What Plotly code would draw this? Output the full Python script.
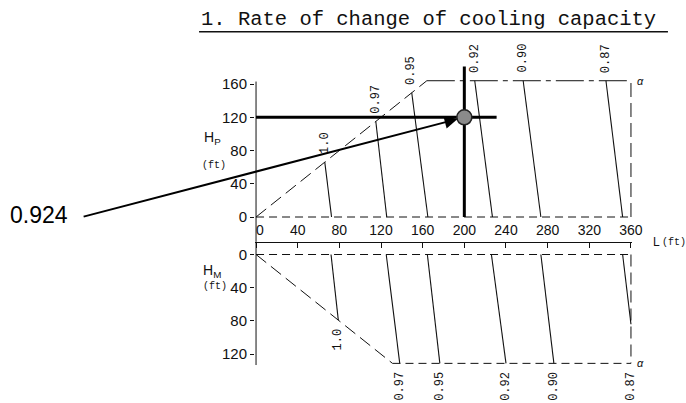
import plotly.graph_objects as go

# ---- data -------------------------------------------------------------
# Capacity correction factors, one line per factor
factors = ["1.0", "0.97", "0.95", "0.92", "0.90", "0.87"]

# Upper chart: outdoor unit above indoor unit (height difference Hp, ft)
upper_top_L = [66, 115, 149.5, 210, 256.5, 336]     # upper end of each line (L, ft)
upper_top_H = [66, 115, 149.5, 164, 164, 164]       # upper end of each line (Hp, ft)
upper_base_L = [72.5, 125.5, 165, 227, 273.5, 352]  # lower end, at Hp = 0

# Lower chart: outdoor unit below indoor unit (height difference HM, ft)
lower_base_L = [72, 125, 164.5, 226, 273.5, 352]    # start of each line, at HM = 0
lower_end_L = [79, 138, 176.5, 240, 286, 360]       # end of each line (L, ft)
lower_end_H = [79, 131, 131, 131, 131, 84]          # end of each line (HM, ft)

L_MAX = 360      # maximum piping length (ft)
HP_MAX = 164     # maximum height difference, outdoor unit above (ft)
HM_MAX = 131     # maximum height difference, outdoor unit below (ft)

x_ticks = [0, 40, 80, 120, 160, 200, 240, 280, 320, 360]
hp_ticks = [0, 40, 80, 120, 160]
hm_ticks = [0, 40, 80, 120]

# Worked example: L = 200 ft, Hp = 120 ft -> factor 0.924
op_L = 200
op_H = 120
op_factor = "0.924"
guide_L_end = 231
guide_H_end = 181

# ---- geometry of the drawing ----------------------------------------
W, H = 686, 403
KX = 375 / 360          # px per ft, horizontal
KY = 0.831              # px per ft, vertical
X0_PX = 256             # column of L = 0
TOP_ZERO_PX = 217       # row of Hp = 0
BOT_ZERO_PX = 254.5     # row of HM = 0
AXIS_PX = 241.5         # row of the L axis
x_lo, x_hi = -1, 361
ML = X0_PX + x_lo * KX
PW = (x_hi - x_lo) * KX
MR = W - ML - PW
MT, MB = 38, 25
PH = H - MT - MB
split = (H - MB - AXIS_PX) / PH
top_range = [-(AXIS_PX - TOP_ZERO_PX) / KY, (TOP_ZERO_PX - MT) / KY]
bot_range = [(H - MB - BOT_ZERO_PX) / KY, -(BOT_ZERO_PX - AXIS_PX) / KY]


def paper_x(px):
    return (px - ML) / PW


def paper_y(py):
    return (H - MB - py) / PH


INK = "#111111"
SANS = "Liberation Sans, Arial, sans-serif"
MONO = "Liberation Mono, DejaVu Sans Mono, monospace"

fig = go.Figure()


def seg(xs, ys, yaxis, width=1.0, dash="solid", color=INK):
    fig.add_trace(go.Scatter(
        x=xs, y=ys, xaxis="x", yaxis=yaxis, mode="lines",
        line=dict(color=color, width=width, dash=dash),
        hoverinfo="skip", showlegend=False))


# left spine (upper and lower charts)
seg([0, 0], [-40, 163], "y")
seg([0, 0], [-20, 133], "y2")

# upper chart outline
seg([0, L_MAX], [0, 0], "y", dash="8px,5px")
seg([0, HP_MAX], [0, HP_MAX], "y", dash="13px,6px")
seg([HP_MAX, L_MAX], [HP_MAX, HP_MAX], "y", dash="28px,5px,5px,5px")
seg([L_MAX, L_MAX], [0, HP_MAX], "y", dash="14px,6px")

# lower chart outline
seg([0, L_MAX], [0, 0], "y2", dash="8px,5px")
seg([0, HM_MAX], [0, HM_MAX], "y2", dash="13px,6px")
seg([HM_MAX, L_MAX], [HM_MAX, HM_MAX], "y2", dash="8px,5px")
seg([L_MAX, L_MAX], [0, HM_MAX], "y2", dash="12px,6px")

# correction-factor lines
for i in range(len(factors)):
    seg([upper_top_L[i], upper_base_L[i]], [upper_top_H[i], 0], "y", width=1.1)
    seg([lower_base_L[i], lower_end_L[i]], [0, lower_end_H[i]], "y2", width=1.1)

# guide lines of the worked example
seg([0, guide_L_end], [op_H, op_H], "y", width=3, color="#000000")
seg([op_L, op_L], [0, guide_H_end], "y", width=3, color="#000000")
fig.add_trace(go.Scatter(
    x=[op_L], y=[op_H], xaxis="x", yaxis="y", mode="markers",
    marker=dict(size=15, color="#8a8a8a", line=dict(color="#222222", width=1.6)),
    cliponaxis=False, hoverinfo="skip", showlegend=False))

annotations = []

# factor labels
for i, f in enumerate(factors):
    annotations.append(dict(
        x=upper_top_L[i], y=upper_top_H[i], xref="x", yref="y", text=f,
        textangle=-90, xanchor="center", yanchor="bottom", yshift=6,
        showarrow=False, font=dict(family=MONO, size=12, color=INK)))
    lx, ly = lower_end_L[i], lower_end_H[i]
    if lx >= L_MAX and ly < HM_MAX:
        ly = HM_MAX
    annotations.append(dict(
        x=lx, y=ly, xref="x", yref="y2", text=f,
        textangle=-90, xanchor="center", yanchor="top", yshift=-6,
        showarrow=False, font=dict(family=MONO, size=12, color=INK)))

# alpha marks at the limit corners
annotations.append(dict(x=L_MAX, y=HP_MAX, xref="x", yref="y", text="<i>α</i>",
                        xanchor="left", yanchor="middle", xshift=4, showarrow=False,
                        font=dict(family=SANS, size=11, color=INK)))
annotations.append(dict(x=L_MAX, y=HM_MAX, xref="x", yref="y2", text="<i>α</i>",
                        xanchor="left", yanchor="middle", xshift=4, showarrow=False,
                        font=dict(family=SANS, size=11, color=INK)))

# arrow from the result to the operating point
annotations.append(dict(x=op_L, y=op_H, xref="x", yref="y", ax=-167, ay=0,
                        axref="x", ayref="y", text="", showarrow=True,
                        arrowhead=2, arrowsize=1.3, arrowwidth=2,
                        arrowcolor="#000000", standoff=7))
annotations.append(dict(x=paper_x(70), y=0, xref="paper", yref="y", text=op_factor,
                        xanchor="right", yanchor="middle", yshift=2, showarrow=False,
                        font=dict(family=SANS, size=23, color="#000000")))

# axis names
annotations += [
    dict(x=paper_x(212), y=paper_y(138), text="H<sub>P</sub>",
         font=dict(family=SANS, size=14, color=INK)),
    dict(x=paper_x(214), y=paper_y(165), text="(ft)",
         font=dict(family=MONO, size=10, color=INK)),
    dict(x=paper_x(212), y=paper_y(271), text="H<sub>M</sub>",
         font=dict(family=SANS, size=14, color=INK)),
    dict(x=paper_x(215), y=paper_y(286.5), text="(ft)",
         font=dict(family=MONO, size=10, color=INK)),
    dict(x=paper_x(657), y=paper_y(241.5), text="L",
         font=dict(family=SANS, size=12, color=INK)),
    dict(x=paper_x(674), y=paper_y(242.5), text="(ft)",
         font=dict(family=MONO, size=10, color=INK)),
]
for a in annotations[-6:]:
    a.update(xref="paper", yref="paper", showarrow=False,
             xanchor="center", yanchor="middle")

# title
annotations.append(dict(x=paper_x(199), y=paper_y(20), xref="paper", yref="paper",
                        text="1. Rate of change of cooling capacity",
                        xanchor="left", yanchor="middle", showarrow=False,
                        font=dict(family=MONO, size=20.5, color=INK)))

x_text = ["\u20070"] + [str(v) for v in x_ticks[1:]]

fig.update_layout(
    width=W, height=H,
    margin=dict(l=ML, r=MR, t=MT, b=MB, pad=0),
    paper_bgcolor="white", plot_bgcolor="white",
    showlegend=False,
    xaxis=dict(range=[x_lo, x_hi], domain=[0, 1], anchor="y",
               showline=True, linecolor=INK, linewidth=1,
               ticks="outside", ticklen=5, tickcolor=INK, tickwidth=1,
               tickvals=x_ticks, ticktext=x_text,
               ticklabelposition="inside", ticklabeloverflow="allow",
               ticklabelstandoff=4,
               tickfont=dict(family=SANS, size=14, color=INK),
               showgrid=False, zeroline=False),
    yaxis=dict(range=top_range, domain=[split, 1], anchor="x",
               showline=False, ticks="outside", ticklen=4, tickcolor=INK,
               tickvals=hp_ticks, tickfont=dict(family=SANS, size=15, color=INK),
               showgrid=False, zeroline=False),
    yaxis2=dict(range=bot_range, domain=[0, split], anchor="x",
                showline=False, ticks="outside", ticklen=4, tickcolor=INK,
                tickvals=hm_ticks, tickfont=dict(family=SANS, size=15, color=INK),
                showgrid=False, zeroline=False),
    annotations=annotations,
    shapes=[dict(type="line", xref="paper", yref="paper",
                 x0=paper_x(199), x1=paper_x(668), y0=paper_y(31.7), y1=paper_y(31.7),
                 line=dict(color=INK, width=1.5))],
)

fig.write_html("out.html")
